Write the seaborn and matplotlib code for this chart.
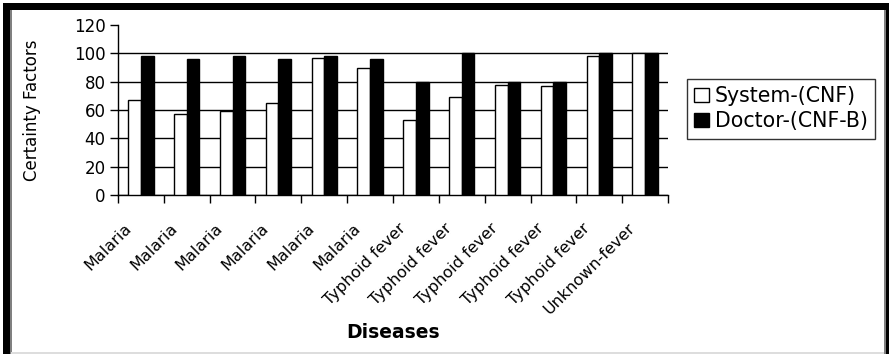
import pandas as pd
import seaborn as sns
import matplotlib.pyplot as plt
from matplotlib.patches import Rectangle
from matplotlib.transforms import ScaledTranslation

diseases = ['Malaria', 'Malaria', 'Malaria', 'Malaria', 'Malaria', 'Malaria',
            'Typhoid fever', 'Typhoid fever', 'Typhoid fever', 'Typhoid fever',
            'Typhoid fever', 'Unknown-fever']
systemCnf = [67, 57, 59, 65, 97, 90, 53, 69, 78, 77, 98, 100]
doctorCnf = [98, 96, 98, 96, 98, 96, 80, 100, 80, 80, 100, 100]
seriesNames = ['System-(CNF)', 'Doctor-(CNF-B)']

W, H = 889, 354

# long form table, numeric case index so repeated names stay separate
df = pd.DataFrame({
    'case': list(range(len(diseases))) * 2,
    'cf': systemCnf + doctorCnf,
    'series': [seriesNames[0]] * len(diseases) + [seriesNames[1]] * len(diseases),
})

sns.set_style('white')
plt.rcParams['font.family'] = ['DejaVu Sans']
plt.rcParams['text.color'] = 'black'
plt.rcParams['axes.labelcolor'] = 'black'
plt.rcParams['xtick.color'] = 'black'
plt.rcParams['ytick.color'] = 'black'

fig = plt.figure(figsize=(W / 100, H / 100), dpi=100)
ax = fig.add_axes([118 / W, 1 - 195 / H, 550 / W, 170 / H])

sns.barplot(data=df, x='case', y='cf', hue='series', hue_order=seriesNames,
            palette={seriesNames[0]: 'white', seriesNames[1]: 'black'},
            edgecolor='black', linewidth=1, width=0.55, gap=0,
            ax=ax, zorder=3)

ax.set_xlim(-0.5, len(diseases) - 0.5)
ax.set_ylim(0, 120)
ax.set_yticks(range(0, 121, 20))
ax.tick_params(axis='y', labelsize=12, length=6, width=1, direction='out',
               left=True, color='black', pad=3)
ax.yaxis.grid(True, color='black', linewidth=1)
ax.get_ygridlines()[-1].set_visible(False)
ax.set_axisbelow(True)

# category labels, tick marks on category boundaries
ax.set_xticks(range(len(diseases)))
ax.set_xticklabels(diseases, rotation=45, ha='right', va='center',
                   rotation_mode='anchor', fontsize=11.5)
ax.tick_params(axis='x', which='major', length=0, pad=22)
shift = ScaledTranslation(-12 / 100, 0, fig.dpi_scale_trans)
for lbl in ax.get_xticklabels():
    lbl.set_transform(lbl.get_transform() + shift)
ax.set_xticks([i - 0.5 for i in range(len(diseases) + 1)], minor=True)
ax.tick_params(axis='x', which='minor', length=6, width=1, direction='out',
               bottom=True, color='black')

for s in ['top', 'right']:
    ax.spines[s].set_visible(False)
for s in ['left', 'bottom']:
    ax.spines[s].set_color('black')
    ax.spines[s].set_linewidth(1)

ax.set_ylabel('Certainty Factors', fontsize=12)
ax.yaxis.set_label_coords((41 - 118) / 550, 0.5)
ax.set_xlabel('Diseases', fontsize=13.5, fontweight='bold')
ax.xaxis.set_label_coords(0.5, (195 - 323) / 170)

ax.get_legend().remove()
handles = [Rectangle((0, 0), 1, 1, facecolor='white', edgecolor='black', linewidth=1),
           Rectangle((0, 0), 1, 1, facecolor='black', edgecolor='black', linewidth=1)]
leg = fig.legend(handles, seriesNames, loc='upper left',
                 bbox_to_anchor=(687 / W, 1 - 79 / H), fontsize=14.8,
                 frameon=True, fancybox=False, edgecolor='black',
                 handlelength=0.7, handleheight=0.7, handletextpad=0.3,
                 borderpad=0.35, labelspacing=0.25, borderaxespad=0)
leg.get_frame().set_linewidth(1)

# screenshot frame around the chart
def pxRect(x, y, w, h, color):
    fig.add_artist(Rectangle((x / W, 1 - (y + h) / H), w / W, h / H,
                             transform=fig.transFigure, facecolor=color,
                             edgecolor='none'))

pxRect(3, 3, W - 3, 7, 'black')
pxRect(3, 3, 7, H - 3, 'black')
pxRect(10, 10, 1.5, H - 10, 'grey')
pxRect(884, 10, 1.5, H - 10, 'grey')
pxRect(886, 10, 3, H - 10, 'black')
pxRect(11, 352, 873, 1.5, '#dddddd')

fig.savefig('out.png', dpi=100)
